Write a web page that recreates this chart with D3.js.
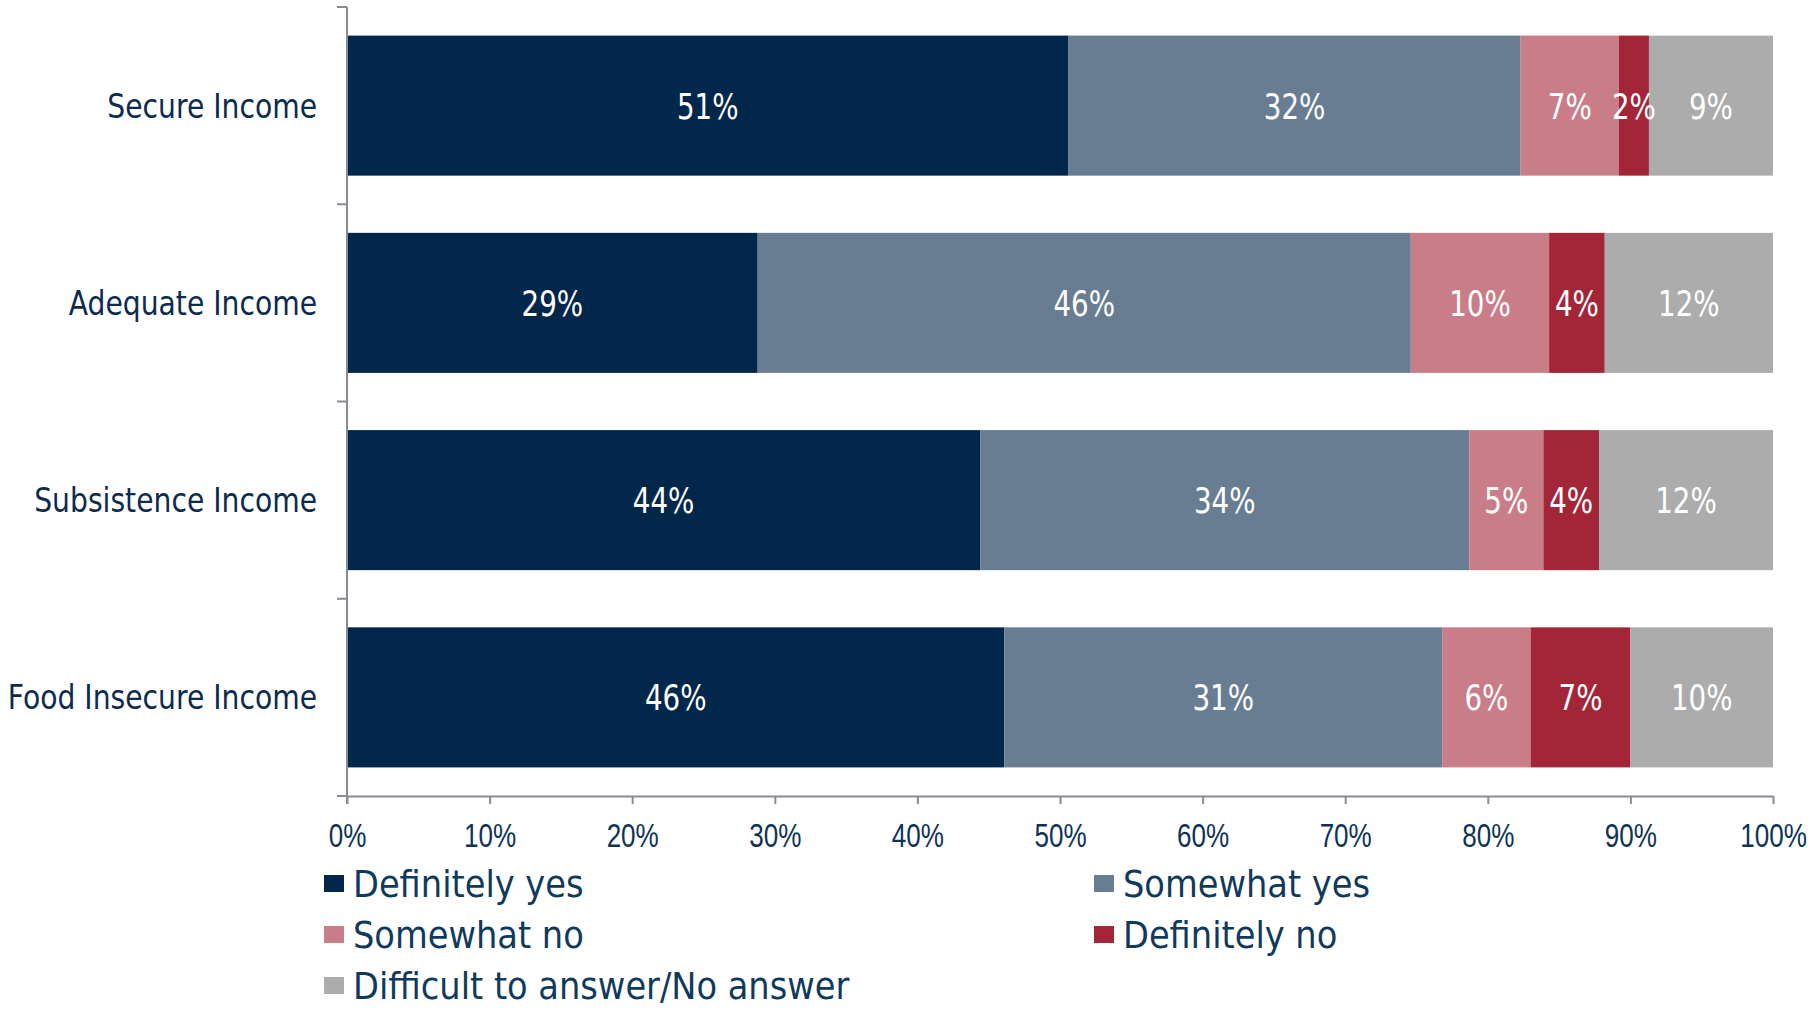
<!DOCTYPE html>
<html>
<head>
<meta charset="utf-8">
<script src="https://cdn.jsdelivr.net/npm/d3@7"></script>
<style>
  html, body { margin: 0; padding: 0; background: #ffffff; }
  svg { display: block; }
</style>
</head>
<body>
<svg id="chart" width="1814" height="1009"></svg>
<script>
// ---- data ----
const categories = ["Secure Income", "Adequate Income", "Subsistence Income", "Food Insecure Income"];
const seriesNames = ["Definitely yes", "Somewhat yes", "Somewhat no", "Definitely no", "Difficult to answer/No answer"];
const definitelyYes = [50.6, 28.8, 44.4, 46.1];
const somewhatYes   = [31.7, 45.8, 34.3, 30.7];
const somewhatNo    = [6.9, 9.7, 5.2, 6.2];
const definitelyNo  = [2.1, 3.9, 3.9, 7.0];
const difficult     = [8.7, 11.8, 12.2, 10.0];
const xTicks = [0, 10, 20, 30, 40, 50, 60, 70, 80, 90, 100];

const seriesValues = [definitelyYes, somewhatYes, somewhatNo, definitelyNo, difficult];
const colors = ["#02274A", "#687D92", "#C97D88", "#A32538", "#ACACAD"];

// ---- layout ----
const svg = d3.select("#chart");
const X0 = 347, X1 = 1773, Y0 = 7, Y1 = 796;
const axisColor = "#898B93";
const catColor = "#0C2B4E";
const tickColor = "#0F3357";
const legendColor = "#103A5C";

const x = d3.scaleLinear().domain([0, 100]).range([X0, X1]);
const y = d3.scaleBand().domain(categories).range([Y0, Y1]).paddingInner(0.29).paddingOuter(0.145);

// stack
const rows = categories.map((c, i) => {
  const r = { cat: c };
  seriesNames.forEach((s, k) => r[s] = seriesValues[k][i]);
  return r;
});
const stack = d3.stack().keys(seriesNames)(rows);

const gBars = svg.append("g");
stack.forEach((layer, k) => {
  const g = gBars.append("g").attr("fill", colors[k]);
  g.selectAll("rect").data(layer).join("rect")
    .attr("x", d => x(d[0]))
    .attr("y", d => y(d.data.cat))
    .attr("width", d => x(d[1]) - x(d[0]))
    .attr("height", y.bandwidth());
});

// data labels
const gLab = svg.append("g");
stack.forEach((layer, k) => {
  gLab.selectAll(null).data(layer).join("text")
    .attr("transform", d => `translate(${(x(d[0]) + x(d[1])) / 2},${y(d.data.cat) + y.bandwidth() / 2 + 13}) scale(0.77,1)`)
    .attr("text-anchor", "middle")
    .attr("font-family", "DejaVu Sans, sans-serif")
    .attr("font-size", 36)
    .attr("fill", "#ffffff")
    .text(d => Math.round(d[1] - d[0]) + "%");
});

// y axis (line + boundary ticks)
const gAx = svg.append("g").attr("stroke", axisColor).attr("stroke-width", 2).attr("fill", "none");
gAx.append("line").attr("x1", X0).attr("x2", X0).attr("y1", Y0).attr("y2", Y1 + 8);
d3.range(categories.length + 1).forEach(i => {
  const yy = Y0 + i * y.step();
  gAx.append("line").attr("x1", X0 - 10).attr("x2", X0).attr("y1", yy).attr("y2", yy);
});

// x axis via d3.axisBottom
const xAxis = svg.append("g").attr("transform", `translate(0,${Y1})`)
  .call(d3.axisBottom(x).tickValues(xTicks).tickSize(8).tickSizeOuter(0).tickFormat(d => d + "%"));
xAxis.select(".domain").attr("stroke", axisColor).attr("stroke-width", 2);
xAxis.selectAll(".tick line").attr("stroke", axisColor).attr("stroke-width", 2);
xAxis.selectAll(".tick text")
  .attr("font-family", "Liberation Sans, Arial, sans-serif")
  .attr("font-size", 33)
  .attr("fill", tickColor)
  .attr("y", 0).attr("dy", 0)
  .attr("transform", "translate(0,51) scale(0.79,1)");

// category labels
svg.append("g").selectAll("text").data(categories).join("text")
  .attr("transform", d => `translate(${X0 - 30},${y(d) + y.bandwidth() / 2 + 12}) scale(0.855,1)`)
  .attr("text-anchor", "end")
  .attr("font-family", "DejaVu Sans, sans-serif")
  .attr("font-size", 33)
  .attr("fill", catColor)
  .text(d => d);

// legend
const legendPos = [[324, 897], [1094, 897], [324, 948], [1094, 948], [324, 999]];
const gLeg = svg.append("g");
seriesNames.forEach((s, k) => {
  const [lx, ly] = legendPos[k];
  gLeg.append("rect").attr("x", lx).attr("y", ly - 22).attr("width", 20).attr("height", 17).attr("fill", colors[k]);
  gLeg.append("text")
    .attr("transform", `translate(${lx + 29},${ly}) scale(0.91,1)`)
    .attr("font-family", "DejaVu Sans, sans-serif")
    .attr("font-size", 37)
    .attr("fill", legendColor)
    .text(s);
});
</script>
</body>
</html>
